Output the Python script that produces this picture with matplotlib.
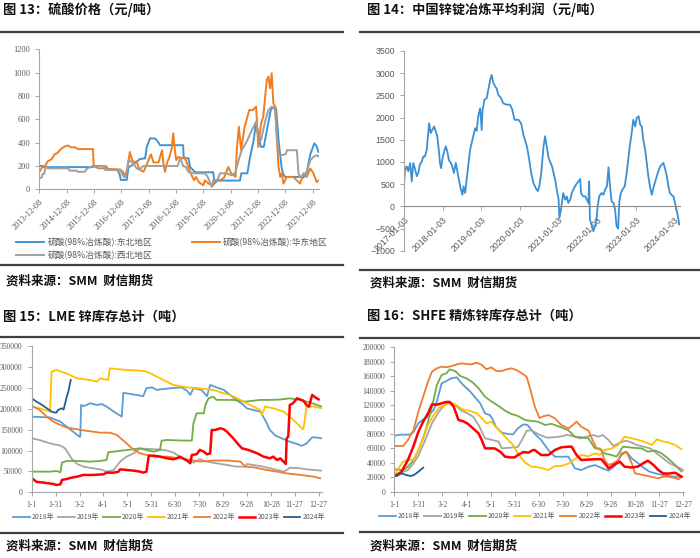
import matplotlib
matplotlib.use("Agg")
import matplotlib.pyplot as plt
from matplotlib.lines import Line2D

plt.rcParams['font.family'] = ['Noto Sans CJK SC', 'DejaVu Sans']

# ---------- 图13 硫酸价格 (x: 年份小数) ----------
ne_x = [2013.94, 2014.08, 2014.12, 2015.90, 2015.95, 2016.30, 2016.35, 2016.80, 2016.89, 2016.92,
        2017.14, 2017.20, 2017.26, 2017.50, 2017.62, 2017.81, 2017.87, 2017.99, 2018.17, 2018.24,
        2018.36, 2019.20, 2019.22, 2019.40, 2019.45, 2019.64, 2020.30, 2020.35, 2020.45, 2021.28,
        2021.33, 2021.55, 2021.65, 2021.78, 2021.87, 2021.95, 2022.05, 2022.15, 2022.38, 2022.42,
        2022.60, 2022.70, 2022.80, 2022.85, 2022.93, 2023.50, 2023.60, 2023.73, 2023.85, 2024.00,
        2024.08, 2024.15]
ne_y = [200, 200, 190, 190, 200, 200, 170, 165, 120, 80,
        80, 190, 195, 235, 260, 265, 364, 436, 436, 420,
        378, 378, 266, 266, 192, 146, 146, 50, 75, 75,
        137, 137, 278, 421, 579, 450, 364, 364, 650, 694,
        694, 400, 192, 137, 106, 106, 100, 150, 300, 394,
        370, 321]

ec_x = [2013.94, 2014.05, 2014.15, 2014.25, 2014.40, 2014.50, 2014.60, 2014.75, 2014.90, 2015.00,
        2015.10, 2015.25, 2015.35, 2015.90, 2015.93, 2016.10, 2016.30, 2016.38, 2016.45, 2016.90,
        2017.00, 2017.08, 2017.18, 2017.25, 2017.32, 2017.40, 2017.50, 2017.60, 2017.75, 2017.85,
        2017.95, 2018.02, 2018.12, 2018.30, 2018.43, 2018.48, 2018.54, 2018.60, 2018.70, 2018.78,
        2018.84, 2018.90, 2018.95, 2019.03, 2019.15, 2019.25, 2019.39, 2019.48, 2019.60, 2019.67,
        2019.78, 2019.94, 2020.00, 2020.12, 2020.30, 2020.40, 2020.55, 2020.70, 2020.85, 2020.95,
        2021.12, 2021.16, 2021.24, 2021.32, 2021.45, 2021.62, 2021.75, 2021.87, 2021.95, 2022.05,
        2022.13, 2022.26, 2022.32, 2022.38, 2022.44, 2022.50, 2022.57, 2022.63, 2022.69, 2022.75,
        2022.81, 2022.87, 2022.99, 2023.23, 2023.35, 2023.48, 2023.60, 2023.72, 2023.85, 2023.97,
        2024.08, 2024.19]
ec_y = [150, 190, 200, 240, 260, 300, 310, 350, 370, 375,
        360, 360, 345, 345, 200, 180, 180, 200, 175, 170,
        150, 110, 200, 320, 260, 230, 240, 170, 150, 200,
        260, 300, 230, 230, 335, 220, 150, 220, 278, 350,
        480, 330, 250, 278, 265, 278, 192, 137, 77, 106,
        60, 34, 77, 50, 34, 77, 77, 100, 192, 140,
        106, 335, 536, 335, 536, 679, 679, 708, 364, 565,
        622, 937, 966, 866, 995, 737, 708, 421, 192, 106,
        137, 49, 106, 106, 77, 49, 137, 106, 178, 137,
        63, 80]

nw_x = [2013.94, 2014.02, 2014.06, 2014.12, 2014.18, 2014.25, 2015.00, 2015.05, 2015.30, 2015.35,
        2015.60, 2015.70, 2015.90, 2016.30, 2016.35, 2016.90, 2016.95, 2017.05, 2017.12, 2017.20,
        2017.35, 2017.50, 2017.60, 2017.75, 2019.00, 2019.10, 2019.20, 2019.30, 2019.40, 2019.60,
        2020.00, 2020.10, 2020.25, 2020.30, 2020.45, 2020.55, 2020.80, 2020.95, 2021.10, 2021.16,
        2021.34, 2021.42, 2021.55, 2021.70, 2021.87, 2021.95, 2022.05, 2022.21, 2022.32, 2022.44,
        2022.56, 2022.63, 2022.70, 2022.78, 2022.95, 2023.00, 2023.36, 2023.42, 2023.48, 2023.60,
        2023.72, 2023.85, 2023.97, 2024.09, 2024.19]
nw_y = [94, 100, 130, 135, 200, 180, 180, 160, 160, 150,
        150, 180, 200, 200, 170, 165, 140, 100, 130, 250,
        230, 180, 170, 200, 200, 270, 198, 192, 146, 137,
        137, 106, 20, 77, 77, 137, 137, 120, 137, 192,
        335, 364, 421, 500, 579, 479, 421, 593, 679, 708,
        694, 450, 300, 292, 300, 335, 335, 137, 106, 120,
        150, 249, 278, 292, 278]

acid_ticks = [2013.94 + k for k in range(11)]
acid_labels = [f"{2013 + k}-12-08" for k in range(11)]

# ---------- 图14 锌锭冶炼平均利润 ----------
pf_x = [2017.00, 2017.03, 2017.07, 2017.11, 2017.16, 2017.20, 2017.24, 2017.28, 2017.33, 2017.37,
        2017.41, 2017.46, 2017.50, 2017.54, 2017.59, 2017.61, 2017.65, 2017.69, 2017.73, 2017.78,
        2017.82, 2017.86, 2017.90, 2017.93, 2017.96, 2017.99, 2018.04, 2018.08, 2018.12, 2018.16,
        2018.21, 2018.25, 2018.29, 2018.34, 2018.38, 2018.42, 2018.47, 2018.51, 2018.54, 2018.58,
        2018.62, 2018.66, 2018.71, 2018.77, 2018.84, 2018.88, 2018.92, 2018.97, 2019.01, 2019.03,
        2019.08, 2019.14, 2019.18, 2019.23, 2019.27, 2019.31, 2019.36, 2019.40, 2019.44, 2019.51,
        2019.57, 2019.66, 2019.74, 2019.80, 2019.86, 2019.96, 2020.03, 2020.09, 2020.18, 2020.24,
        2020.29, 2020.35, 2020.41, 2020.46, 2020.50, 2020.55, 2020.61, 2020.65, 2020.74, 2020.83,
        2020.91, 2020.95, 2021.00, 2021.02, 2021.06, 2021.12, 2021.17, 2021.21, 2021.25, 2021.30,
        2021.34, 2021.38, 2021.45, 2021.51, 2021.56, 2021.58, 2021.63, 2021.69, 2021.73, 2021.77,
        2021.79, 2021.81, 2021.85, 2021.90, 2021.94, 2021.98, 2022.01, 2022.05, 2022.11, 2022.16,
        2022.20, 2022.25, 2022.29, 2022.33, 2022.37, 2022.42, 2022.46, 2022.50, 2022.54, 2022.57,
        2022.61, 2022.65, 2022.71, 2022.76, 2022.80, 2022.84, 2022.89, 2022.93, 2022.98, 2023.02,
        2023.07, 2023.11, 2023.15, 2023.19, 2023.24, 2023.28, 2023.32, 2023.37, 2023.41, 2023.45,
        2023.50, 2023.54, 2023.58, 2023.63, 2023.67, 2023.71, 2023.75, 2023.80, 2023.84, 2023.88,
        2023.93, 2023.97, 2024.01, 2024.06, 2024.10, 2024.12]
pf_y = [525, 825, 900, 790, 975, 560, 975, 860, 680, 750,
        940, 1010, 1120, 1120, 1280, 1500, 1870, 1650, 1720, 1800,
        1690, 1580, 1280, 980, 860, 1050, 1240, 1350, 1240, 1050,
        980, 900, 750, 980, 790, 600, 380, 260, 450, 300,
        600, 900, 1275, 1500, 1760, 1700, 2030, 2210, 1720, 2150,
        2400, 2440, 2620, 2850, 2960, 2780, 2700, 2650, 2510, 2440,
        2320, 2290, 2290, 2180, 1950, 1950, 1870, 1610, 1350, 1050,
        750, 520, 410, 340, 450, 750, 1350, 1580, 1090, 900,
        600, 380, 150, -260, -75, 300, 150, 225, 75, 150,
        300, 375, 490, 560, 615, 300, 225, 225, 150, 75,
        560, -300, -410, -560, -450, -300, 0, 225, 300, 260,
        375, 450, 880, 450, 110, 75, -75, -450, -500, 100,
        300, 375, 450, 750, 1050, 1350, 1650, 1950, 1800, 1990,
        2030, 1840, 1800, 1500, 1270, 980, 680, 410, 260, 410,
        560, 680, 790, 900, 940, 980, 860, 680, 450, 300,
        250, 225, 75, -110, -300, -410]

pf_ticks = [2017 + k for k in range(8)]
pf_labels = [f"{2017 + k}-01-03" for k in range(8)]

# ---------- 图15 LME锌库存 (x: 自1月1日起天数) ----------
day_ticks = [0, 30, 60, 90, 120, 150, 180, 210, 240, 270, 300, 330, 360]
day_labels = ["1-1", "1-31", "3-2", "4-1", "5-1", "5-31", "6-30", "7-30", "8-29", "9-28",
              "10-28", "11-27", "12-27"]

lme18_d = [0, 23, 36, 44, 52, 60, 61, 62, 65, 69, 73, 82, 88, 94, 103, 113, 115, 128, 140, 144,
           151, 157, 165, 174, 188, 195, 199, 203, 213, 220, 224, 232, 241, 249, 257, 266, 270, 278,
           287, 293, 299, 306, 314, 324, 333, 339, 345, 352, 358, 364]
lme18_v = [181000, 179000, 169000, 157000, 145000, 133000, 133000, 209000, 206000, 209000, 213000,
           209000, 211000, 205000, 193000, 181000, 238000, 234000, 230000, 249000, 251000, 245000,
           247000, 249000, 251000, 243000, 233000, 249000, 245000, 230000, 257000, 251000, 245000,
           233000, 221000, 209000, 201000, 197000, 193000, 173000, 149000, 135500, 129000, 121000,
           115600, 111000, 117000, 131600, 131000, 129000]

lme19_d = [0, 10, 23, 36, 42, 46, 50, 57, 65, 77, 86, 94, 103, 111, 119, 128, 136, 144, 153, 161,
           170, 178, 186, 195, 203, 211, 220, 232, 245, 257, 268, 270, 278, 291, 299, 308, 316, 320,
           324, 337, 345, 354, 364]
lme19_v = [129000, 125000, 117000, 111600, 105000, 93000, 81000, 67800, 61400, 57400, 55000,
           49400, 53400, 73400, 85300, 93300, 105000, 104000, 103000, 102800, 99700, 95000, 85300,
           77300, 71000, 79000, 73400, 69400, 65400, 61400, 61400, 67800, 65400, 61400, 57400,
           53400, 49400, 53400, 59000, 57400, 55000, 53400, 51800]

lme20_d = [0, 23, 31, 36, 38, 44, 57, 73, 86, 94, 96, 103, 119, 136, 144, 153, 161, 163, 170, 186,
           201, 203, 207, 216, 218, 222, 228, 232, 253, 268, 287, 299, 312, 324, 337, 349, 358, 364]
lme20_v = [49400, 49400, 51000, 48000, 71000, 75000, 75000, 73400, 75000, 77300, 95700, 97300,
           101000, 105200, 101000, 97300, 101000, 123600, 125200, 124000, 123600, 165000, 189000,
           189000, 209000, 224800, 228800, 221000, 221000, 216900, 221000, 221000, 222000, 224800,
           221000, 215000, 209000, 205000]

lme21_d = [0, 10, 23, 25, 31, 44, 57, 73, 82, 86, 96, 98, 119, 136, 144, 153, 161, 178, 195, 211,
           228, 241, 249, 262, 274, 287, 289, 293, 303, 316, 324, 333, 339, 341, 345, 354, 364]
lme21_v = [205000, 201000, 193000, 288600, 292600, 284000, 272700, 268700, 264700, 272700, 268700,
           296600, 292600, 291000, 289000, 280600, 272700, 256700, 251100, 248700, 245000, 236800,
           233000, 220900, 208900, 197000, 185000, 205000, 201000, 193000, 181000, 165000, 153000,
           150700, 205000, 205000, 201000]

lme22_d = [2, 10, 19, 27, 36, 44, 57, 69, 86, 98, 107, 119, 128, 136, 144, 153, 170, 186, 199, 211,
           228, 245, 262, 268, 278, 295, 308, 320, 337, 354, 362]
lme22_v = [205000, 197000, 181000, 169000, 161000, 155000, 150700, 147000, 142700, 142700, 137100,
           117200, 101300, 93300, 89300, 85300, 85300, 81300, 77300, 73400, 76000, 76000, 73400,
           61400, 60000, 53400, 49400, 45400, 41500, 37500, 33500]

lme23_d = [2, 6, 15, 27, 31, 36, 38, 44, 50, 57, 65, 77, 90, 94, 103, 109, 111, 119, 128, 136, 140,
           144, 147, 153, 161, 170, 178, 182, 186, 195, 199, 201, 207, 211, 216, 220, 224, 226, 230,
           237, 241, 245, 253, 260, 264, 272, 283, 291, 299, 303, 308, 312, 316, 319, 320, 322, 324,
           328, 333, 341, 345, 348, 352, 356, 360]
lme23_v = [31100, 25000, 23100, 19900, 17500, 19000, 29500, 31900, 35000, 37500, 41500, 41500,
           43000, 47000, 47000, 49400, 55000, 53400, 51800, 49400, 47000, 49400, 87700, 87700,
           85300, 81300, 78900, 81300, 85300, 75700, 69400, 89300, 91000, 101300, 97300, 90900,
           93000, 149100, 149100, 153100, 150700, 145100, 129200, 113200, 105200, 101300, 93300,
           85300, 81300, 85300, 77300, 81300, 73400, 67800, 129200, 133100, 208900, 212900, 224800,
           219000, 208900, 205000, 232800, 227200, 222400]

lme24_d = [0, 6, 13, 19, 25, 29, 31, 33, 38, 40, 42, 44, 46, 49]
lme24_v = [224800, 216900, 209000, 201000, 193000, 190600, 190600, 197000, 200900, 198000, 212900,
           228800, 240800, 268700]

# ---------- 图16 SHFE精炼锌库存 ----------
sh18_d = [0, 9, 20, 24, 30, 36, 42, 49, 53, 59, 65, 71, 78, 82, 88, 94, 100, 107, 113, 119, 123,
          127, 134, 142, 148, 154, 161, 166, 171, 175, 183, 192, 200, 208, 217, 225, 233, 242, 250,
          258, 267, 275, 283, 289, 296, 304, 312, 318, 327, 335, 341, 350, 358]
sh18_v = [77600, 79000, 79000, 82700, 94700, 100000, 104700, 113200, 124700, 150100, 153400,
          157000, 158400, 152400, 145500, 139500, 131600, 122400, 108500, 106200, 99300, 89100,
          81700, 79900, 79400, 87800, 93300, 92400, 85500, 80000, 71600, 57700, 48500, 48500,
          48500, 32300, 30000, 34600, 36900, 33000, 29100, 36000, 50800, 55400, 46000, 39300, 32000,
          27700, 25000, 23100, 22000, 20800, 20800]

sh19_d = [0, 6, 17, 24, 30, 38, 47, 55, 61, 69, 78, 84, 92, 98, 105, 113, 121, 130, 134, 144, 154,
          159, 165, 171, 179, 190, 198, 206, 215, 223, 231, 240, 248, 254, 260, 267, 273, 281, 289,
          296, 302, 310, 319, 327, 335, 343, 352, 360]
sh19_v = [22000, 25400, 30000, 39300, 50000, 70000, 95000, 110000, 118000, 124700, 118000, 112200,
          108000, 104000, 92400, 73900, 72000, 69300, 60000, 61000, 62000, 71600, 84500, 85000,
          79900, 74800, 75300, 76200, 78500, 77100, 73900, 76200, 78500, 76200, 78500, 71600,
          63300, 67900, 70700, 67900, 64700, 62400, 60000, 53100, 46200, 39300, 34600, 30000]

sh20_d = [0, 11, 17, 24, 30, 38, 47, 53, 59, 65, 69, 76, 82, 90, 98, 105, 113, 121, 130, 138, 146,
          154, 163, 171, 179, 188, 196, 208, 217, 225, 235, 242, 250, 256, 262, 271, 277, 285, 296,
          308, 316, 325, 333, 341, 350, 358]
sh20_v = [31000, 30000, 34600, 43900, 57700, 80800, 117800, 147800, 161700, 164000, 169500,
          167000, 160300, 157000, 151000, 143200, 131600, 125000, 118700, 112200, 107600, 104900,
          99300, 98000, 97000, 92400, 94000, 89100, 85000, 76200, 75000, 73900, 60000, 60000,
          53100, 50800, 48500, 62400, 61000, 60000, 55400, 57000, 53100, 46200, 37000, 28000]

sh21_d = [0, 5, 11, 17, 24, 30, 36, 42, 49, 55, 61, 67, 74, 80, 86, 94, 103, 109, 115, 121, 127,
          134, 142, 148, 154, 163, 171, 175, 183, 192, 200, 208, 217, 225, 233, 242, 250, 256, 262,
          271, 279, 287, 296, 304, 312, 321, 327, 335, 341, 350, 358]
sh21_v = [22000, 32300, 41600, 43900, 44500, 57700, 73900, 92400, 106200, 115500, 119000, 122400,
          122400, 117800, 113200, 112000, 108500, 101600, 94700, 97000, 89100, 80800, 71600, 64700,
          53100, 40200, 34600, 34600, 33000, 30000, 35600, 35600, 39000, 45300, 50800, 49000,
          53100, 51000, 57700, 60000, 64700, 76200, 74000, 71600, 69000, 64700, 72500, 69500,
          68400, 64700, 58700]

sh22_d = [0, 5, 11, 17, 24, 30, 36, 42, 47, 53, 59, 65, 71, 78, 84, 90, 96, 103, 109, 115, 121,
          127, 134, 140, 146, 152, 159, 165, 170, 175, 181, 186, 192, 200, 208, 217, 221, 227, 233,
          242, 248, 252, 258, 262, 267, 273, 279, 283, 289, 296, 300, 308, 316, 323, 329, 335, 341,
          350, 354, 358]
sh22_v = [63300, 63300, 63300, 71600, 85500, 110900, 131600, 152400, 166300, 170900, 173200,
          172300, 174000, 176400, 177800, 176800, 176400, 178800, 175600, 169500, 172300, 167200,
          167200, 169500, 170900, 168600, 164000, 159000, 140000, 118000, 102000, 104500, 106200,
          101600, 92400, 87800, 91000, 97000, 90000, 84500, 69300, 60000, 57700, 43900, 37000,
          39300, 43900, 53100, 55400, 39300, 25400, 23500, 21700, 20000, 18500, 20800, 20800,
          19000, 17100, 20800]

sh23_d = [0, 3, 9, 17, 24, 30, 36, 42, 47, 53, 59, 65, 69, 74, 80, 86, 92, 98, 105, 109, 113, 119,
          125, 132, 138, 144, 150, 154, 161, 167, 173, 175, 183, 192, 200, 208, 217, 221, 227, 233,
          242, 250, 258, 264, 267, 275, 281, 287, 296, 304, 310, 316, 323, 329, 335, 341, 350, 358]
sh23_v = [22000, 23100, 27700, 43900, 63300, 83100, 97000, 108500, 121000, 120500, 122400, 124300,
          124300, 117800, 99300, 97500, 93800, 87800, 80800, 71600, 60000, 60000, 60000, 55400,
          48500, 47500, 47500, 50800, 55000, 54000, 57700, 57700, 50800, 50800, 57700, 61400,
          62400, 62400, 51000, 43900, 44500, 45000, 45000, 37000, 32300, 38000, 41600, 34600,
          33500, 35000, 39300, 43000, 37000, 30000, 25400, 25000, 26300, 20800]

sh24_d = [0, 3, 9, 15, 21, 25, 30, 36]
sh24_v = [22000, 21700, 25400, 23000, 21700, 23500, 27700, 33300]

year_labels = ["2018年", "2019年", "2020年", "2021年", "2022年", "2023年", "2024年"]
year_colors = ["#5B9BD5", "#A5A5A5", "#70AD47", "#FFC000", "#ED7D31", "#FF0000", "#255E91"]

W, H = 700, 558
fig = plt.figure(figsize=(7, 5.58), dpi=100)

AX_C = "#A6A6A6"
TICK_C = "#595959"
SERIF = ["Liberation Serif", "Noto Sans CJK SC"]


def fx(px):
    return px / W


def fy(py):
    return 1 - py / H


def add_axes(l, t, r, b):
    return fig.add_axes([fx(l), fy(b), fx(r) - fx(l), (b - t) / H])


def style(ax, family, size):
    for s in ["top", "right"]:
        ax.spines[s].set_visible(False)
    for s in ["left", "bottom"]:
        ax.spines[s].set_color(AX_C)
        ax.spines[s].set_linewidth(0.8)
    ax.tick_params(colors=AX_C, labelcolor=TICK_C, labelsize=size, length=3, width=0.7)
    for lab in ax.get_xticklabels() + ax.get_yticklabels():
        lab.set_family(family)


def frame(x0, x1, title, title_y, rule_y, bottom_y, src_y, tx):
    fig.text(fx(tx), fy(title_y), title, fontsize=9.5, fontweight="bold", va="center",
             color="#111111")
    for y in (rule_y, bottom_y):
        fig.add_artist(Line2D([fx(x0), fx(x1)], [fy(y), fy(y)], color="#404040", lw=1.6))
    fig.text(fx(tx + 3), fy(src_y), "资料来源：SMM  财信期货", fontsize=9, fontweight="bold",
             style="italic", va="center", color="#111111")


def year_legend(ax, cx, cy):
    ax.legend(loc="center", bbox_to_anchor=(fx(cx), fy(cy)), bbox_transform=fig.transFigure,
              ncol=7, frameon=False, fontsize=5, handlelength=2.4, columnspacing=0.55,
              handletextpad=0.3, labelcolor="#595959")


# 图13
frame(0, 343, "图 13：硫酸价格（元/吨）", 10, 32, 265, 281, 3)
ax1 = add_axes(39.3, 49.3, 319, 189.3)
h_ne, = ax1.plot(ne_x, ne_y, color="#3D95D6", lw=1.4, label="硫酸(98%冶炼酸):东北地区")
h_ec, = ax1.plot(ec_x, ec_y, color="#F07D1E", lw=1.4, label="硫酸(98%冶炼酸):华东地区")
h_nw, = ax1.plot(nw_x, nw_y, color="#9E9E9E", lw=1.4, label="硫酸(98%冶炼酸):西北地区")
ax1.set_xlim(2013.94, 2024.17)
ax1.set_ylim(0, 1200)
ax1.set_yticks(range(0, 1201, 200))
ax1.set_xticks(acid_ticks)
ax1.set_xticklabels(acid_labels, rotation=45, ha="right", rotation_mode="anchor")
style(ax1, SERIF, 6)
ax1.legend([h_ne, h_nw, h_ec], [h_ne.get_label(), h_nw.get_label(), h_ec.get_label()],
           loc="center", bbox_to_anchor=(fx(172), fy(249)), bbox_transform=fig.transFigure,
           ncol=2, frameon=False, fontsize=6.3, handlelength=3.2, columnspacing=4.5,
           handletextpad=0.4, labelcolor="#595959", labelspacing=0.5)

# 图14
frame(360, 700, "图 14：中国锌锭冶炼平均利润（元/吨）", 10, 32, 270, 283, 367)
ax2 = add_axes(404, 51, 680, 250.7)
ax2.plot(pf_x, pf_y, color="#3A8FD5", lw=1.3)
ax2.set_xlim(2017.0, 2024.14)
ax2.set_ylim(-1000, 3500)
ax2.set_yticks(range(-1000, 3501, 500))
ax2.spines["bottom"].set_position(("data", 0))
ax2.set_xticks(pf_ticks)
ax2.set_xticklabels(pf_labels, rotation=45, ha="right", rotation_mode="anchor")
style(ax2, ["Liberation Sans"], 6.3)
ax2.spines["bottom"].set_color("#8C8C8C")

# 图15
frame(0, 343, "图 15：LME 锌库存总计（吨）", 317, 337, 533, 546, 3)
ax3 = add_axes(31.7, 346, 321.7, 492.3)
lme_series = [(lme18_d, lme18_v), (lme19_d, lme19_v), (lme20_d, lme20_v), (lme21_d, lme21_v),
              (lme22_d, lme22_v), (lme23_d, lme23_v), (lme24_d, lme24_v)]
for (d, v), lab, c in zip(lme_series, year_labels, year_colors):
    ax3.plot(d, v, color=c, lw=1.8 if lab == "2023年" else 1.3, label=lab)
ax3.set_xlim(0, 364)
ax3.set_ylim(0, 350000)
ax3.set_yticks(range(0, 350001, 50000))
ax3.set_xticks(day_ticks)
ax3.set_xticklabels(day_labels)
style(ax3, SERIF, 5.5)
year_legend(ax3, 169, 517)

# 图16
frame(360, 700, "图 16：SHFE 精炼锌库存总计（吨）", 316, 338, 532, 546, 367)
ax4 = add_axes(394.3, 347.3, 684, 491.7)
sh_series = [(sh18_d, sh18_v), (sh19_d, sh19_v), (sh20_d, sh20_v), (sh21_d, sh21_v),
             (sh22_d, sh22_v), (sh23_d, sh23_v), (sh24_d, sh24_v)]
for (d, v), lab, c in zip(sh_series, year_labels, year_colors):
    ax4.plot(d, v, color=c, lw=1.8 if lab == "2023年" else 1.3, label=lab)
ax4.set_xlim(0, 361)
ax4.set_ylim(0, 200000)
ax4.set_yticks(range(0, 200001, 20000))
ax4.set_xticks(day_ticks)
ax4.set_xticklabels(day_labels)
style(ax4, SERIF, 5.5)
year_legend(ax4, 535, 516)

fig.savefig("out.png", dpi=100)
